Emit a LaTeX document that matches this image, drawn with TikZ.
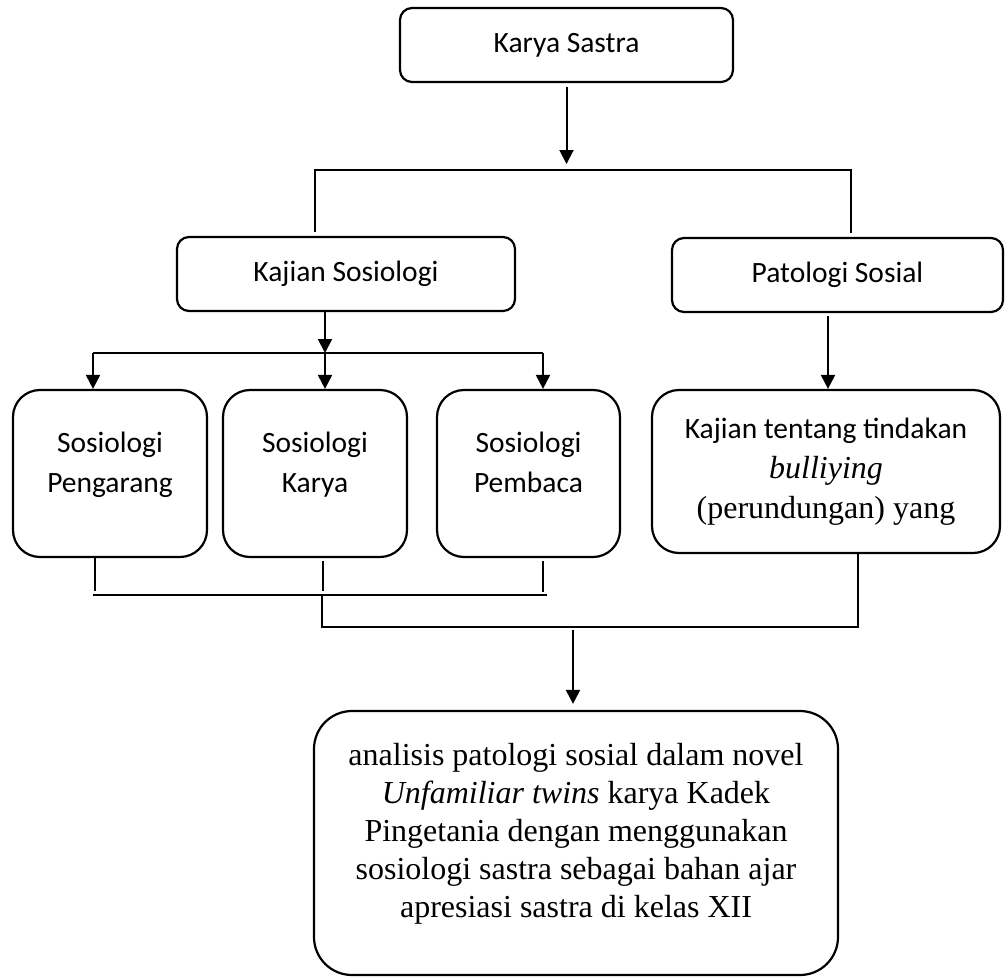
\documentclass[tikz,border=0pt]{standalone}
\usepackage{fontspec}
\setmainfont{Liberation Serif}
\newfontfamily\calibri{Carlito}
\usetikzlibrary{arrows.meta}

\begin{document}
\begin{tikzpicture}[
    x=1bp, y=-1bp,
    box/.style={rectangle, rounded corners=12bp, draw=black, line width=2.2bp,
                align=center, inner sep=0pt,
                font={\calibri\fontsize{29.5bp}{40bp}\selectfont}},
    sosbox/.style={box, rounded corners=27bp, minimum height=167bp,
                   text height=65bp, text depth=28bp},
    conn/.style={draw=black, line width=2bp},
    flow/.style={conn, -{Triangle[length=14bp, width=14bp]}}
]
\useasboundingbox (0,0) rectangle (1005,977);

% Kotak utama
\node[box, minimum width=333bp, minimum height=74bp] (karya) at (566.5,45) {Karya Sastra};
\node[box, minimum width=338bp, minimum height=74bp] (kajian) at (346,274) {Kajian Sosiologi};
\node[box, minimum width=331bp, minimum height=74bp] (patologi) at (837.5,275) {Patologi Sosial};

% Tiga sosiologi
\node[sosbox, minimum width=194bp] (pengarang) at (110,473.5) {Sosiologi\\Pengarang};
\node[sosbox, minimum width=184bp] (karyasos) at (315,473.5) {Sosiologi\\Karya};
\node[sosbox, minimum width=183bp] (pembaca) at (528.5,473.5) {Sosiologi\\Pembaca};

\node[box, rounded corners=27bp, minimum width=348bp, minimum height=163bp] (tentang) at (826,471.5) {
    Kajian tentang tindakan\\
    {\rmfamily\itshape\fontsize{32bp}{40bp}\selectfont bulliying}\\
    {\rmfamily\fontsize{32bp}{40bp}\selectfont (perundungan) yang}
};

% Hasil akhir
\node[box, rounded corners=38bp, minimum width=524bp, minimum height=264bp,
      font={\rmfamily\fontsize{32bp}{38bp}\selectfont},
      text height=155bp, text depth=7bp] (hasil) at (576,843) {
    analisis patologi sosial dalam novel\\
    \textit{Unfamiliar twins} karya Kadek\\
    Pingetania dengan menggunakan\\
    sosiologi sastra sebagai bahan ajar\\
    apresiasi sastra di kelas XII
};

% Cabang pertama
\coordinate (cabangL) at (315,170);
\coordinate (cabangR) at (851,170);
\draw[flow, shorten <=4bp, shorten >=6bp] (karya.south) -- (karya.south |- cabangL);
\draw[conn] ([yshift=4bp]kajian.north -| cabangL) -- (cabangL) -- (cabangR)
    -- ([yshift=4bp]patologi.north -| cabangR);

% Kajian Sosiologi ke tiga sosiologi
\coordinate (sosL) at (93,353);
\coordinate (sosM) at (325,353);
\coordinate (sosR) at (543,353);
\draw[flow] (kajian.south -| sosM) -- (sosM);
\draw[conn] (sosL) -- (sosR);
\foreach \c/\n in {sosL/pengarang, sosM/karyasos, sosR/pembaca}
    \draw[flow] (\c) -- (\c |- \n.north);

% Patologi Sosial
\draw[flow, shorten <=3bp] ([xshift=-9.5bp]patologi.south) -- ([xshift=-9.5bp]patologi.south |- tentang.north);

% Gabungan bawah
\coordinate (gabL) at (93,595);
\coordinate (gabR) at (547,595);
\coordinate (gab2L) at (322,627);
\coordinate (gab2R) at (858,627);
\coordinate (turun) at (573,627);
\draw[conn] (gabL) -- (gabR);
\draw[conn, shorten >=4bp] ([xshift=-15bp]pengarang.south) -- ([xshift=-15bp]pengarang.south |- gabL);
\draw[conn, shorten <=3bp, shorten >=4bp] ([xshift=8bp]karyasos.south) -- ([xshift=8bp]karyasos.south |- gabL);
\draw[conn, shorten <=3bp, shorten >=3bp] ([xshift=14.5bp]pembaca.south) -- ([xshift=14.5bp]pembaca.south |- gabL);
\draw[conn] (gabL -| gab2L) -- (gab2L) -- (gab2R) -- (gab2R |- tentang.south);
\draw[flow, shorten <=3bp, shorten >=6bp] (turun) -- (turun |- hasil.north);

\end{tikzpicture}
\end{document}
